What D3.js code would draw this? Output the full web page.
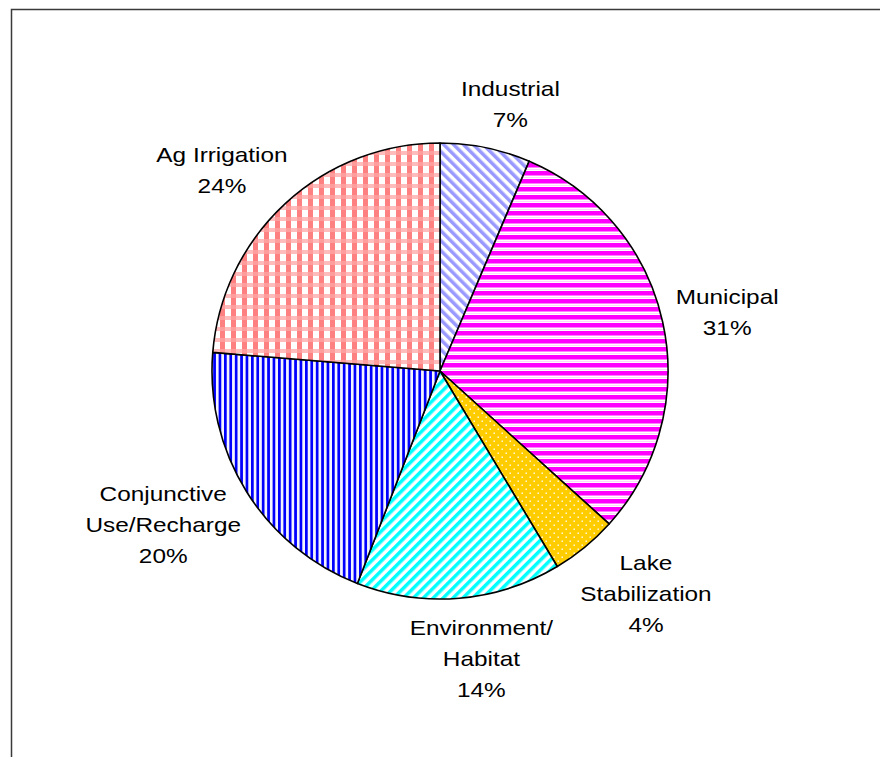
<!DOCTYPE html>
<html>
<head>
<meta charset="utf-8">
<script src="https://cdn.jsdelivr.net/npm/d3@7"></script>
<style>
  body { margin: 0; background: #fff; }
  svg { display: block; }
  text { font-family: "Liberation Sans", Arial, sans-serif; }
</style>
</head>
<body>
<div class="chart"></div>
<script>
// water use shares, clockwise from 12 o'clock
const categories = ["Industrial", "Municipal", "Lake Stabilization", "Environment/Habitat", "Conjunctive Use/Recharge", "Ag Irrigation"];
const labelLines = [["Industrial"], ["Municipal"], ["Lake", "Stabilization"], ["Environment/", "Habitat"], ["Conjunctive", "Use/Recharge"], ["Ag Irrigation"]];
const values = [6.4, 30.3, 4.7, 14.5, 20.4, 23.7];
const percentLabels = ["7%", "31%", "4%", "14%", "20%", "24%"];

const width = 880;
const height = 757;
const cx = 440, cy = 371, radius = 228;
const fontSize = 21, stretch = 1.16, lineH = 31;

const svg = d3.select(".chart").append("svg")
    .attr("width", width)
    .attr("height", height);

const defs = svg.append("defs");

// diagonal stripes
function stripes(id, color, angle, size) {
    const p = defs.append("pattern")
        .attr("id", id)
        .attr("patternUnits", "userSpaceOnUse")
        .attr("width", size).attr("height", size)
        .attr("patternTransform", "rotate(" + angle + ")");
    p.append("rect").attr("width", size).attr("height", size).attr("fill", "#fff");
    p.append("rect").attr("width", size / 2).attr("height", size).attr("fill", color);
}
stripes("pat0", "#9999ff", -45, 7);
stripes("pat3", "#00ffff", 45, 7);

// horizontal magenta
const pm = defs.append("pattern").attr("id", "pat1")
    .attr("patternUnits", "userSpaceOnUse").attr("width", 8).attr("height", 8);
pm.append("rect").attr("width", 8).attr("height", 8).attr("fill", "#fff");
pm.append("rect").attr("width", 8).attr("height", 4.5).attr("fill", "#ff00ff");
pm.append("rect").attr("y", 6).attr("width", 8).attr("height", 0.8).attr("fill", "#ffccff");

// dotted gold
const pl = defs.append("pattern").attr("id", "pat2")
    .attr("patternUnits", "userSpaceOnUse").attr("width", 8).attr("height", 8);
pl.append("rect").attr("width", 8).attr("height", 8).attr("fill", "#ffcc00");
pl.append("rect").attr("x", 1.5).attr("y", 1.5).attr("width", 1.4).attr("height", 1.4).attr("fill", "#fff");
pl.append("rect").attr("x", 5.5).attr("y", 5.5).attr("width", 1.4).attr("height", 1.4).attr("fill", "#fff");

// vertical blue
const pb = defs.append("pattern").attr("id", "pat4")
    .attr("patternUnits", "userSpaceOnUse").attr("width", 5.4).attr("height", 8);
pb.append("rect").attr("width", 5.4).attr("height", 8).attr("fill", "#f4f4ff");
pb.append("rect").attr("width", 2.7).attr("height", 8).attr("fill", "#0000ff");

// salmon gingham
const pa = defs.append("pattern").attr("id", "pat5")
    .attr("patternUnits", "userSpaceOnUse").attr("width", 11).attr("height", 11);
pa.append("rect").attr("width", 11).attr("height", 11).attr("fill", "#fff");
pa.append("rect").attr("width", 11).attr("height", 4).attr("fill", "#ffbcbc");
pa.append("rect").attr("width", 5).attr("height", 11).attr("fill", "#ff8080");
pa.append("rect").attr("width", 5).attr("height", 4).attr("fill", "#ff9c9c");

// outer frame
svg.append("rect")
    .attr("x", 11.5).attr("y", 9.5)
    .attr("width", width).attr("height", height)
    .attr("fill", "none")
    .attr("stroke", "#3a3a3a")
    .attr("stroke-width", 1.5);

const pie = d3.pie().sort(null).value(function(d) { return d; });
const arcs = pie(values);
const arc = d3.arc().innerRadius(0).outerRadius(radius);

const g = svg.append("g").attr("transform", "translate(" + cx + "," + cy + ")");

g.selectAll("path")
    .data(arcs)
    .enter()
    .append("path")
    .attr("d", arc)
    .attr("fill", function(d, i) { return "url(#pat" + i + ")"; })
    .attr("stroke", "#000")
    .attr("stroke-width", 1.6)
    .attr("stroke-linejoin", "round");

// labels: text block pushed outward from a point just outside the rim
const labelR = radius + 14;
arcs.forEach(function(d, i) {
    const mid = (d.startAngle + d.endAngle) / 2;
    const s = Math.sin(mid), c = Math.cos(mid);
    const lines = labelLines[i].concat([percentLabels[i]]);

    const lg = g.append("g");
    const inner = lg.append("g").attr("transform", "scale(" + stretch + ",1)");
    let maxW = 0;
    lines.forEach(function(t, k) {
        const txt = inner.append("text")
            .attr("text-anchor", "middle")
            .attr("y", (k - (lines.length - 1) / 2) * lineH + fontSize * 0.36)
            .attr("font-size", fontSize)
            .attr("fill", "#000")
            .text(t);
        maxW = Math.max(maxW, txt.node().getComputedTextLength() * stretch);
    });
    const hw = maxW / 2;
    const hh = lines.length * lineH / 2;
    const x = labelR * s + hw * Math.sign(s) * Math.sqrt(Math.abs(s));
    const y = -labelR * c - hh * c;
    lg.attr("transform", "translate(" + x + "," + y + ")");
});
</script>
</body>
</html>
